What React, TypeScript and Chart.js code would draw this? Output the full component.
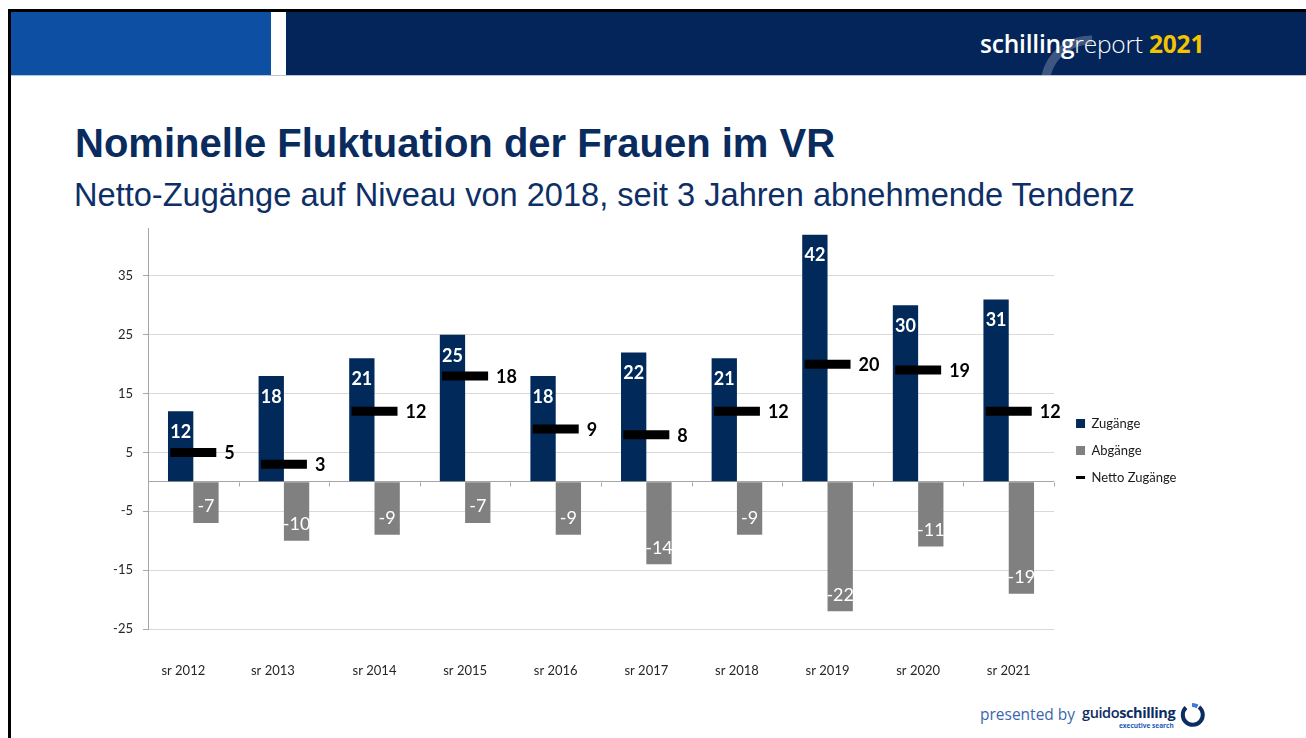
import React, { useEffect, useRef } from "react";
import { Chart, registerables } from "chart.js";

Chart.register(...registerables);

// ---- data ----
const categories = ["sr 2012", "sr 2013", "sr 2014", "sr 2015", "sr 2016", "sr 2017", "sr 2018", "sr 2019", "sr 2020", "sr 2021"];
const zugaenge = [12, 18, 21, 25, 18, 22, 21, 42, 30, 31];
const abgaenge = [-7, -10, -9, -7, -9, -14, -9, -22, -11, -19];
const netto = [5, 3, 12, 18, 9, 8, 12, 20, 19, 12];
const yTicks = [-25, -15, -5, 0, 5, 15, 25, 35];
const seriesNames = ["Netto Zugänge", "Zugänge", "Abgänge"];

// layout: the first two category labels sit a little left of their slot in the original
const LABEL_SHIFT: Record<number, number> = { 0: -10, 1: -11 };

const NAVY = "#012a5b";
const GRAY = "#808080";
const AXIS = "#a6a6a6";
const GRID = "#d9d9d9";
const FONT = "Lato, 'Open Sans', sans-serif";

const labelPlugin = {
  id: "valueLabels",
  afterDatasetsDraw(chart: any) {
    const ctx = chart.ctx;
    ctx.save();
    chart.data.datasets.forEach((ds: any, di: number) => {
      const meta = chart.getDatasetMeta(di);
      meta.data.forEach((el: any, i: number) => {
        const v = ds.data[i];
        ctx.textBaseline = "middle";
        if (di === 1) {
          ctx.font = `bold 18px ${FONT}`;
          ctx.fillStyle = "#ffffff";
          ctx.textAlign = "center";
          ctx.fillText(String(v), el.x, el.y + 21);
        } else if (di === 2) {
          ctx.font = `18px ${FONT}`;
          ctx.fillStyle = "#ffffff";
          ctx.textAlign = "center";
          ctx.fillText(String(v), el.x, el.y - 16.5);
        } else {
          ctx.font = `bold 18px ${FONT}`;
          ctx.fillStyle = "#000000";
          ctx.textAlign = "left";
          ctx.fillText(String(v), el.x + 23 + 8, el.y + 1);
        }
      });
    });
    ctx.restore();
  },
};

const tickPlugin = {
  id: "zeroTicks",
  beforeDatasetsDraw(chart: any) {
    const ctx = chart.ctx;
    const xs = chart.scales.x;
    const ys = chart.scales.y;
    const y0 = Math.round(ys.getPixelForValue(0)) + 0.5;
    ctx.save();
    ctx.strokeStyle = AXIS;
    ctx.lineWidth = 1;
    ctx.beginPath();
    for (let i = 0; i <= categories.length; i++) {
      const x = Math.round(xs.getPixelForValue(i - 0.5)) + 0.5;
      ctx.moveTo(x, y0);
      ctx.lineTo(x, y0 + 4);
    }
    ctx.stroke();
    ctx.restore();
  },
};

function ChartBox() {
  const ref = useRef<HTMLCanvasElement | null>(null);
  useEffect(() => {
    if (!ref.current) return;
    const chart = new Chart(ref.current, {
      type: "bar",
      data: {
        labels: categories,
        datasets: [
          {
            type: "line",
            label: seriesNames[0],
            data: netto,
            showLine: false,
            pointStyle: "line",
            pointRadius: 23,
            pointHoverRadius: 23,
            borderColor: "#000",
            backgroundColor: "#000",
            pointBorderColor: "#000",
            pointBorderWidth: 9,
            pointHoverBorderWidth: 9,
            borderWidth: 9,
            order: -1,
          } as any,
          {
            label: seriesNames[1],
            data: zugaenge,
            backgroundColor: NAVY,
            borderWidth: 0,
            categoryPercentage: 0.565,
            barPercentage: 1,
          },
          {
            label: seriesNames[2],
            data: abgaenge,
            backgroundColor: GRAY,
            borderWidth: 0,
            categoryPercentage: 0.565,
            barPercentage: 1,
          },
        ],
      },
      options: {
        animation: false,
        responsive: true,
        maintainAspectRatio: false,
        events: [],
        layout: { autoPadding: false, padding: { top: 8, left: 0, right: 0, bottom: 0 } },
        scales: {
          x: {
            grid: { display: false, drawTicks: false },
            border: { display: false },
            ticks: {
              font: { family: FONT, size: 13 },
              color: "#262626",
              padding: 34,
              maxRotation: 0,
              autoSkip: false,
            },
            afterFit: (s: any) => {
              s.height = 60;
              if (!s.__shifted) {
                const base = s.getPixelForTick.bind(s);
                s.getPixelForTick = (i: number) => base(i) + (LABEL_SHIFT[i] || 0);
                s.__shifted = true;
              }
            },
          },
          y: {
            min: -25,
            max: 43,
            afterBuildTicks: (s: any) => {
              s.ticks = yTicks.map((v) => ({ value: v }));
            },
            afterFit: (s: any) => {
              s.width = 88;
            },
            ticks: {
              font: { family: FONT, size: 13 },
              color: "#262626",
              padding: 10,
              callback: (v: any) => (v === 0 ? "" : String(v)),
            },
            grid: {
              color: (c: any) => (c.tick && c.tick.value === 0 ? AXIS : GRID),
              tickColor: (c: any) => (c.tick && c.tick.value === 0 ? "rgba(0,0,0,0)" : AXIS),
              tickLength: 5,
              lineWidth: 1,
            },
            border: { display: true, color: AXIS },
          },
          yR: {
            type: "linear",
            position: "right",
            display: true,
            grid: { display: false, drawTicks: false },
            border: { display: false },
            ticks: { display: false },
            afterFit: (s: any) => {
              s.width = 8;
            },
          } as any,
        },
        plugins: {
          tooltip: { enabled: false },
          legend: {
            position: "right",
            fullSize: false,
            title: { display: true, text: " ", padding: { top: 31, bottom: 0 }, font: { size: 10 } },
            labels: {
              usePointStyle: true,
              pointStyleWidth: 9,
              boxHeight: 9,
              padding: 14,
              color: "#1a1a1a",
              font: { family: FONT, size: 13 },
              generateLabels: (ch: any) => {
                const order = [1, 2, 0];
                return order.map((di) => {
                  const ds = ch.data.datasets[di];
                  const isLine = di === 0;
                  return {
                    text: ds.label,
                    fillStyle: isLine ? "#000" : ds.backgroundColor,
                    strokeStyle: isLine ? "#000" : ds.backgroundColor,
                    lineWidth: isLine ? 3 : 0,
                    pointStyle: isLine ? "line" : "rect",
                    hidden: false,
                    datasetIndex: di,
                    fontColor: "#1a1a1a",
                  };
                });
              },
            },
          },
        },
      },
      plugins: [tickPlugin, labelPlugin],
    });
    return () => chart.destroy();
  }, []);
  return (
    <div style={{ position: "absolute", left: 60, top: 211, width: 1126.4, height: 478 }}>
      <canvas ref={ref} />
    </div>
  );
}

export default function App() {
  return (
    <div
      style={{
        position: "fixed",
        left: 0,
        top: 0,
        width: 1306,
        height: 738,
        background: "#ffffff",
        overflow: "hidden",
        fontFamily: "'Liberation Sans', Arial, sans-serif",
      }}
    >
      {/* slide frame */}
      <div style={{ position: "absolute", left: 8, top: 9, width: 3, height: 740, background: "#000" }} />
      <div style={{ position: "absolute", left: 8, top: 9, width: 1300, height: 3, background: "#000" }} />
      {/* header */}
      <div style={{ position: "absolute", left: 11, top: 12, width: 260, height: 63, background: "#0d4fa2" }} />
      <div style={{ position: "absolute", left: 286, top: 12, width: 1020, height: 63, background: "#03255a" }} />
      <div style={{ position: "absolute", left: 11, top: 75, width: 1295, height: 1, background: "#b9c4d6" }} />
      <svg style={{ position: "absolute", left: 0, top: 0 }} width={1306} height={75}>
        <path d="M 1046 76 A 46 46 0 0 1 1092 40" fill="none" stroke="rgba(150,162,185,0.4)" strokeWidth={9} />
      </svg>
      <div
        style={{
          position: "absolute",
          left: 980,
          top: 31.5,
          fontFamily: "'Open Sans', sans-serif",
          fontSize: 24.5,
          lineHeight: 1,
          whiteSpace: "nowrap",
          color: "#ffffff",
          letterSpacing: -0.2,
        }}
      >
        <span style={{ fontWeight: 600 }}>schilling</span>
        <span style={{ fontWeight: 300 }}>report</span>
        <span style={{ fontWeight: 700, color: "#f4c400" }}> 2021</span>
      </div>

      {/* titles */}
      <div
        style={{
          position: "absolute",
          left: 75,
          top: 123,
          fontSize: 40,
          lineHeight: 1,
          fontWeight: 700,
          color: "#0a2b5d",
          whiteSpace: "nowrap",
        }}
      >
        Nominelle Fluktuation der Frauen im VR
      </div>
      <div
        style={{
          position: "absolute",
          left: 74,
          top: 178.5,
          fontSize: 32.6,
          lineHeight: 1,
          color: "#0e2f66",
          whiteSpace: "nowrap",
        }}
      >
        Netto-Zugänge auf Niveau von 2018, seit 3 Jahren abnehmende Tendenz
      </div>

      <ChartBox />

      {/* footer */}
      <div
        style={{
          position: "absolute",
          left: 980,
          top: 707,
          fontFamily: "'Open Sans', sans-serif",
          fontSize: 15.5,
          lineHeight: 1,
          color: "#3a67b0",
          whiteSpace: "nowrap",
        }}
      >
        presented by
      </div>
      <div
        style={{
          position: "absolute",
          left: 1082,
          top: 706,
          fontFamily: "'Open Sans', sans-serif",
          fontSize: 14.5,
          lineHeight: 1,
          color: "#0b2d63",
          whiteSpace: "nowrap",
          letterSpacing: -0.4,
        }}
      >
        <span style={{ fontWeight: 600 }}>guido</span>
        <span style={{ fontWeight: 700 }}>schilling</span>
      </div>
      <div
        style={{
          position: "absolute",
          left: 1119,
          top: 723,
          fontFamily: "'Open Sans', sans-serif",
          fontSize: 6.5,
          lineHeight: 1,
          fontWeight: 700,
          color: "#1e5bb5",
          whiteSpace: "nowrap",
        }}
      >
        executive search
      </div>
      <svg style={{ position: "absolute", left: 1178, top: 702 }} width={30} height={30}>
        <path d="M 21 5 A 10 10 0 1 1 8 5.5" fill="none" stroke="#0b2d63" strokeWidth={4} />
        <path d="M 14 3 A 10 10 0 0 1 19.5 4.5" fill="none" stroke="#3a7bd5" strokeWidth={4} />
      </svg>
    </div>
  );
}
